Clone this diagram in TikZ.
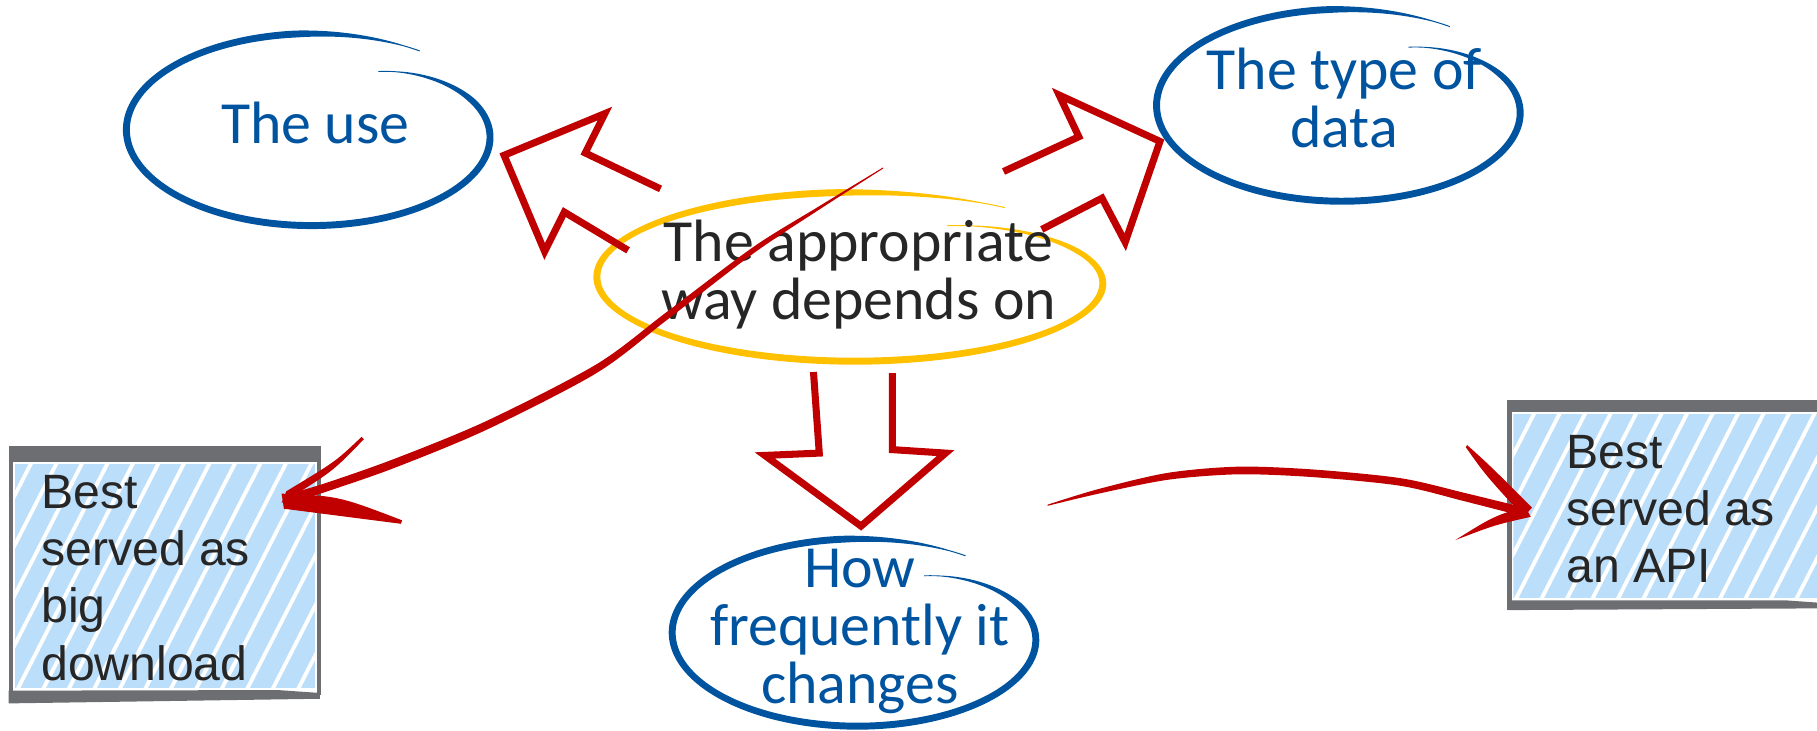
\documentclass[tikz,border=0pt]{standalone}
\usepackage{fontspec}
\setmainfont{Liberation Sans}
\newfontfamily\handfont{Carlito}
\definecolor{skblue}{RGB}{0,84,159}
\definecolor{skred}{RGB}{192,0,0}
\definecolor{skyellow}{RGB}{255,192,0}
\definecolor{ink}{RGB}{38,38,38}
\definecolor{bargray}{RGB}{109,110,113}
\definecolor{hatchblue}{RGB}{187,222,251}

% hand-drawn loop: colour, centre x, centre y, radius x, radius y
\newcommand\sketchloop[5]{%
  \fill[#1] plot[domain=0:1,samples=180,variable=\s]
    ({#2+(#4*rr(\s)+ww(\s))*cos(-60+365*\s)},{#3+(#5*rr(\s)+ww(\s))*sin(-60+365*\s)})
    -- plot[domain=0:1,samples=180,variable=\s]
    ({#2+(#4*rr(1-\s)-ww(1-\s))*cos(-60+365*(1-\s))},{#3+(#5*rr(1-\s)-ww(1-\s))*sin(-60+365*(1-\s))})
    -- cycle;}

% hatched panel: left x, upper y, right x, lower y
\newcommand\hatchpanel[4]{%
  \begin{scope}
    \clip (#1,#2) rectangle (#3,#4);
    \fill[hatchblue] (#1,#2) rectangle (#3,#4);
    \foreach \i in {-8,...,16}
      \draw[white,line width=1.1pt] ({#1+\i*22},{#4+5}) -- ++(115,-225);
  \end{scope}}

\begin{document}
\begin{tikzpicture}[x=0.011588cm,y=-0.011588cm,
  declare function={rr(\s)=1-0.3*exp(-\s*365/35);
                    ww(\s)=3*min(1,max(0.15,\s*365/40),max(0.15,(1-\s)*365/40));},
  handtext/.style={font=\handfont\fontsize{17}{16.5}\selectfont,align=center,inner sep=0pt},
  boxtext/.style={font=\fontsize{13.7}{16.3}\selectfont,align=left,inner sep=0pt,text=ink},
  blockarrow/.style={draw=skred,line width=2pt,line join=miter,line cap=butt},
  bar/.style={fill=bargray}]
\useasboundingbox (0,0) rectangle (1568,630);

% ---- topic loops ----
\sketchloop{skblue}{270}{112}{161}{83}
\sketchloop{skblue}{1159}{91}{161}{83}
\sketchloop{skyellow}{739}{239}{224}{73}
\sketchloop{skblue}{741}{546}{161}{81}

% texts are placed by the baseline of their last line
\node[handtext,text=skblue,anchor=base] (use) at (272,124) {The use};
\node[handtext,text=skblue,anchor=base] (type) at (1160,127) {The type of\\data};
\node[handtext,text=ink,anchor=base] (mid) at (741,276) {The appropriate\\way depends on};
\node[handtext,text=skblue,anchor=base] (freq) at (742,607) {How\\frequently it\\changes};

% ---- outlined block arrows ----
\draw[blockarrow] (570,163) -- (505,132) -- (522,98) -- (435,134) -- (470,217) -- (487,183) -- (542,216);
\draw[blockarrow] (866,148) -- (931,118) -- (914,82) -- (1001,122) -- (971,209) -- (951,171) -- (899,198);
\draw[blockarrow] (702,321) -- (707,391) -- (660,393) -- (743,454) -- (816,391) -- (770,388) -- (770,322);

% ---- panels ----
\hatchpanel{13}{400}{272}{594}
\fill[bar] (8,385) rectangle (277,398.5);
\fill[bar] (7.5,385) rectangle (11,607);
\fill[bar] (273.5,385) rectangle (277,600);
\fill[bar] (7.5,596) -- (240,595.5) -- (276,598) -- (276,603) -- (7.5,607) -- cycle;
\node[boxtext,anchor=base west] (dl) at (35,587) {Best\\served as\\big\\download};

\hatchpanel{1306}{357}{1568}{516}
\fill[bar] (1301,345) rectangle (1568,355.5);
\fill[bar] (1300.5,345) rectangle (1304.5,526);
\fill[bar] (1301,518) -- (1540,518) -- (1568,520) -- (1568,525) -- (1301,526.5) -- cycle;
\node[boxtext,anchor=base west] (api) at (1351,503) {Best\\served as\\an API};

% ---- sketched arrow to the download panel ----
\fill[skred] plot[smooth] coordinates {(762,144.5) (706,178.5) (650,213.2) (575,269.5) (515,314.2) (420,363.2) (340,396.1) (280,417.2) (250,426)}
  -- plot[smooth] coordinates {(250,434) (280,424.8) (340,403.9) (420,370.8) (515,321.8) (575,276.5) (650,218.8) (706,181.5) (762,145.5)} -- cycle;
\fill[skred] (312,377) .. controls (290,398) .. (247,424) -- (243,434) .. controls (287,407) .. (314,379) -- cycle;
\fill[skred] (243,426) .. controls (292,428) .. (347,449) -- (346,452) .. controls (295,446) .. (245,439) -- cycle;

% ---- sketched arrow to the API panel ----
\fill[skred] plot[smooth] coordinates {(904,435.5) (948,422) (1008,408) (1069,402.7) (1134,405.2) (1209,412.7) (1264,425.4) (1304,435.2) (1316,438.5)}
  -- plot[smooth] coordinates {(1316,445.5) (1304,442.8) (1264,432.6) (1209,419.3) (1134,411.8) (1069,409.3) (1008,414) (948,426) (904,436.5)} -- cycle;
\fill[skred] (1266,384) .. controls (1286,402) .. (1322,438) -- (1315,446) .. controls (1282,410) .. (1265,386) -- cycle;
\fill[skred] (1321,446) .. controls (1290,453) .. (1256,466) .. controls (1288,446) .. (1316,437) -- cycle;
\end{tikzpicture}
\end{document}
